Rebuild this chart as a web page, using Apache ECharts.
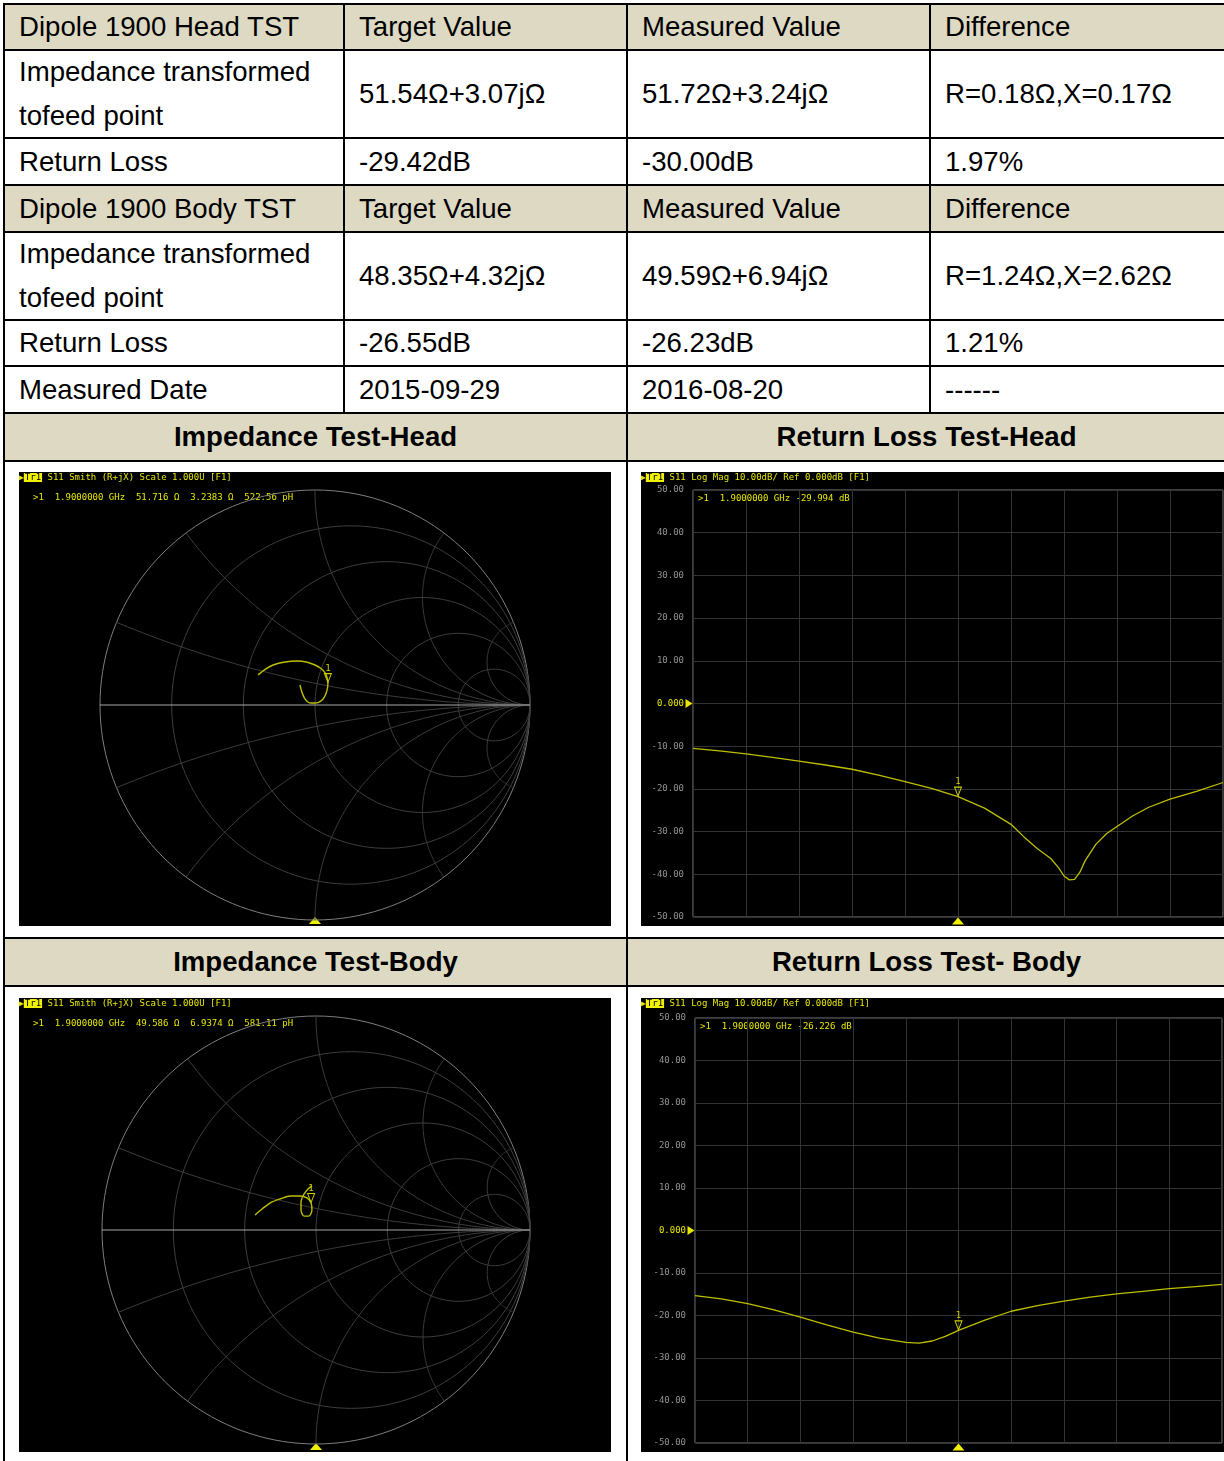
<!DOCTYPE html>
<html>
<head>
<meta charset="utf-8">
<title>Dipole 1900 verification</title>
<script src="https://cdn.jsdelivr.net/npm/echarts@6.0.0/dist/echarts.min.js"></script>
<style>
  html, body { margin: 0; padding: 0; background: #fff; }
  #page { position: relative; width: 1224px; height: 1461px; overflow: hidden;
          font-family: 'Liberation Sans', Arial, sans-serif; font-size: 27.6px; color: #000; }
  .cell { position: absolute; box-sizing: border-box; border: 2px solid #000; display: flex;
          align-items: center; padding-left: 14px; line-height: 44px; white-space: nowrap; }
  .cell.hd { background: #ddd9c3; }
  .cell.sec { background: #ddd9c3; font-weight: bold; justify-content: center; padding-left: 0; }
  .scope { position: absolute; background: #000; }
</style>
</head>
<body>
<div id="page"></div>
<script>
// table text
const headRows = [
  ['Dipole 1900 Head TST', 'Target Value', 'Measured Value', 'Difference'],
  ['Impedance transformed<br>tofeed point', '51.54Ω+3.07jΩ', '51.72Ω+3.24jΩ', 'R=0.18Ω,X=0.17Ω'],
  ['Return Loss', '-29.42dB', '-30.00dB', '1.97%']
]
const bodyRows = [
  ['Dipole 1900 Body TST', 'Target Value', 'Measured Value', 'Difference'],
  ['Impedance transformed<br>tofeed point', '48.35Ω+4.32jΩ', '49.59Ω+6.94jΩ', 'R=1.24Ω,X=2.62Ω'],
  ['Return Loss', '-26.55dB', '-26.23dB', '1.21%'],
  ['Measured Date', '2015-09-29', '2016-08-20', '------']
]
const sectionTitles = [
  ['Impedance Test-Head', 'Return Loss Test-Head'],
  ['Impedance Test-Body', 'Return Loss Test- Body']
]

// return loss traces (MHz, dB)
const MARKER_MHZ = 1900
const headRlFreq = [1400, 1450, 1500, 1550, 1600, 1650, 1700, 1750, 1800, 1850, 1900, 1950, 2000, 2025, 2050,
  2075, 2090, 2100, 2110, 2120, 2130, 2140, 2160, 2180, 2200, 2230, 2260, 2300, 2350, 2400]
const headRlDb = [-10.5, -11.1, -11.8, -12.6, -13.5, -14.4, -15.4, -16.8, -18.3, -19.9, -21.8, -24.5, -28.3, -31.3, -34.0,
  -36.3, -38.5, -40.4, -41.3, -41.2, -39.5, -36.8, -33.0, -30.5, -28.8, -26.3, -24.3, -22.4, -20.6, -18.5]
const bodyRlFreq = [1400, 1450, 1500, 1550, 1600, 1650, 1700, 1750, 1800, 1825, 1850, 1875, 1900, 1950, 2000,
  2050, 2100, 2150, 2200, 2250, 2300, 2350, 2400]
const bodyRlDb = [-15.3, -16.1, -17.2, -18.7, -20.4, -22.2, -23.9, -25.3, -26.3, -26.5, -26.0, -24.9, -23.5, -21.1, -19.0,
  -17.7, -16.6, -15.7, -14.9, -14.3, -13.7, -13.2, -12.7]

// smith traces (reflection coefficient re / im)
const headSmithRe = [-0.265, -0.232, -0.195, -0.140, -0.084, -0.040, 0.000, 0.028, 0.047, 0.057, 0.060, 0.058,
  0.052, 0.044, 0.033, 0.017, 0.000, -0.018, -0.033, -0.046, -0.056, -0.064, -0.070]
const headSmithIm = [0.140, 0.166, 0.186, 0.200, 0.205, 0.200, 0.186, 0.170, 0.149, 0.125, 0.102, 0.078,
  0.056, 0.038, 0.023, 0.012, 0.009, 0.009, 0.014, 0.027, 0.047, 0.070, 0.093]
const headSmithMarker = 10
const bodySmithRe = [-0.285, -0.252, -0.215, -0.168, -0.121, -0.075, -0.042, -0.023, -0.019, -0.033, -0.056,
  -0.070, -0.070, -0.056, -0.037, -0.019]
const bodySmithIm = [0.070, 0.098, 0.126, 0.145, 0.159, 0.159, 0.150, 0.126, 0.093, 0.065, 0.065,
  0.093, 0.131, 0.168, 0.192, 0.206]
const bodySmithMarker = 7

// smith grid: resistance circles (0 = outer rim) and reactance arcs
const smithR = [0, 0.2, 0.5, 1, 2, 5]
const smithX = [0.2, 0.5, 1, 2, 5]

const colX = [4, 344, 627, 930, 1226]
const rowY = [4, 50, 138, 185, 232, 320, 366, 413, 461, 938, 986, 1463]

const YEL = '#e6e600'
const TRACE = '#bebe00'
const MONO = '"DejaVu Sans Mono", monospace'

const page = document.getElementById('page')

function addCell(r, c, span, html, cls) {
  const d = document.createElement('div')
  d.className = 'cell' + (cls ? ' ' + cls : '')
  d.style.left = (colX[c] - 1) + 'px'
  d.style.top = (rowY[r] - 1) + 'px'
  d.style.width = (colX[c + span] - colX[c] + 2) + 'px'
  d.style.height = (rowY[r + 1] - rowY[r] + 2) + 'px'
  d.innerHTML = html
  page.appendChild(d)
}

headRows.concat(bodyRows).forEach((row, r) => {
  row.forEach((txt, c) => addCell(r, c, 1, txt, (r === 0 || r === 3) ? 'hd' : ''))
})
sectionTitles.forEach((pair, i) => {
  const r = 7 + i * 2
  addCell(r, 0, 2, pair[0], 'sec')
  addCell(r, 2, 2, pair[1], 'sec')
  addCell(r + 1, 0, 2, '', '')
  addCell(r + 1, 2, 2, '', '')
})

function scope(left, top, width, height) {
  const d = document.createElement('div')
  d.className = 'scope'
  Object.assign(d.style, { left: left + 'px', top: top + 'px', width: width + 'px', height: height + 'px' })
  page.appendChild(d)
  return d
}

function scopeTitle(text) {
  return {
    text: '{a|▶}{b|Tr1} ' + text,
    left: 0,
    top: 1,
    padding: 0,
    textStyle: {
      color: YEL, fontSize: 9, fontWeight: 'normal', fontFamily: MONO,
      rich: {
        a: { color: YEL, fontSize: 8, fontFamily: MONO },
        b: { color: '#000', backgroundColor: '#f0f000', fontSize: 9, fontFamily: MONO, padding: [0, 1] }
      }
    }
  }
}

function markerOne(coord) {
  return {
    coord: coord,
    symbol: 'triangle',
    symbolRotate: 180,
    symbolSize: [7, 9],
    symbolOffset: [0, -5],
    itemStyle: { color: 'rgba(0,0,0,0)', borderColor: '#d0d000', borderWidth: 1 },
    label: { show: true, position: 'top', distance: 0, formatter: '1', color: '#d0d000', fontSize: 9, fontFamily: MONO }
  }
}

function returnLossChart(el, freq, db, readout, grid) {
  const chart = echarts.init(el)
  const m = freq.indexOf(MARKER_MHZ)
  chart.setOption({
    animation: false,
    backgroundColor: '#000',
    title: scopeTitle('S11 Log Mag 10.00dB/ Ref 0.000dB [F1]'),
    grid: Object.assign({ show: true, borderColor: '#7a7a7a', borderWidth: 1 }, grid),
    xAxis: {
      type: 'value', min: 1400, max: 2400, interval: 100,
      axisLabel: { show: false }, axisTick: { show: false }, axisLine: { show: false },
      splitLine: { show: true, lineStyle: { color: '#333', width: 1 } }
    },
    yAxis: {
      type: 'value', min: -50, max: 50, interval: 10,
      axisTick: { show: false }, axisLine: { show: false },
      splitLine: { lineStyle: { color: '#333', width: 1 } },
      axisLabel: {
        color: '#929292', fontFamily: MONO, fontSize: 9, margin: 9,
        formatter: v => v === 0 ? '{z|0.000}' : v.toFixed(2),
        rich: { z: { color: YEL, fontFamily: MONO, fontSize: 9 } }
      }
    },
    graphic: [{
      type: 'text', left: grid.left + 5, top: grid.top + 4,
      style: { text: readout, fill: YEL, font: '9px ' + MONO }
    }],
    series: [{
      type: 'line',
      data: freq.map((f, i) => [f, db[i]]),
      showSymbol: false,
      lineStyle: { color: TRACE, width: 1.3 },
      markPoint: {
        silent: true,
        data: [
          markerOne([freq[m], db[m]]),
          { coord: [1400, 0], symbol: 'triangle', symbolRotate: -90, symbolSize: [9, 7], symbolOffset: [-4, 0],
            itemStyle: { color: YEL }, label: { show: false } },
          { coord: [MARKER_MHZ, -50], symbol: 'triangle', symbolSize: [12, 7], symbolOffset: [0, 4],
            itemStyle: { color: '#f0f000' }, label: { show: false } }
        ]
      }
    }]
  })
}

function resistancePath(api, r) {
  const c = r / (1 + r), rho = 1 / (1 + r), pts = []
  for (let k = 0; k <= 160; k++) {
    const t = k / 160 * Math.PI * 2
    pts.push(api.coord([c + rho * Math.cos(t), rho * Math.sin(t)]))
  }
  return pts
}

function reactancePath(api, x) {
  const pts = []
  for (let k = 0; k < 160; k++) {
    const s = Math.tan(k / 160 * Math.PI / 2)
    const den = (s + 1) * (s + 1) + x * x
    pts.push(api.coord([(s * s - 1 + x * x) / den, 2 * x / den]))
  }
  pts.push(api.coord([1, 0]))
  return pts
}

function smithChart(el, re, im, mIdx, readout, grid) {
  const chart = echarts.init(el)
  const lineStyle = { lineWidth: 1, fill: null }
  chart.setOption({
    animation: false,
    backgroundColor: '#000',
    title: scopeTitle('S11 Smith (R+jX) Scale 1.000U [F1]'),
    grid: grid,
    xAxis: { type: 'value', min: -1, max: 1, show: false },
    yAxis: { type: 'value', min: -1, max: 1, show: false },
    graphic: [
      { type: 'text', left: 14, top: 21, style: { text: readout, fill: YEL, font: '9px ' + MONO } },
      { type: 'polygon', shape: { points: [[grid.left + grid.width / 2 - 6, 452], [grid.left + grid.width / 2, 445],
        [grid.left + grid.width / 2 + 6, 452]] }, style: { fill: '#f0f000' } }
    ],
    series: [
      {
        type: 'custom', silent: true, encode: { x: 0, y: 1 },
        data: smithR.map(r => [r, 0]),
        renderItem: (p, api) => ({
          type: 'polyline', shape: { points: resistancePath(api, api.value(0)) },
          style: Object.assign({ stroke: api.value(0) === 0 ? '#7e7e7e' : '#3e3e3e' }, lineStyle)
        })
      },
      {
        type: 'custom', silent: true, encode: { x: 0, y: 1 },
        data: smithX.map(x => [x, 0]).concat(smithX.map(x => [-x, 0])),
        renderItem: (p, api) => ({
          type: 'polyline', shape: { points: reactancePath(api, api.value(0)) },
          style: Object.assign({ stroke: '#3e3e3e' }, lineStyle)
        })
      },
      {
        type: 'custom', silent: true, encode: { x: 0, y: 1 },
        data: [[-1, 0]],
        renderItem: (p, api) => {
          const a = api.coord([-1, 0]), b = api.coord([1, 0])
          return { type: 'line', shape: { x1: a[0], y1: a[1], x2: b[0], y2: b[1] },
            style: { stroke: '#a8a8a8', lineWidth: 1 } }
        }
      },
      {
        type: 'line',
        data: re.map((v, i) => [v, im[i]]),
        smooth: 0.3,
        showSymbol: false,
        lineStyle: { color: TRACE, width: 1.4 },
        markPoint: { silent: true, data: [markerOne([re[mIdx], im[mIdx]])] }
      }
    ]
  })
}

smithChart(scope(19, 472, 592, 454), headSmithRe, headSmithIm, headSmithMarker,
  '>1  1.9000000 GHz  51.716 Ω  3.2383 Ω  522.56 pH', { left: 81, top: 18, width: 430, height: 430 })
returnLossChart(scope(641, 472, 583, 454), headRlFreq, headRlDb,
  '>1  1.9000000 GHz -29.994 dB', { left: 52, top: 18, width: 530, height: 427 })
smithChart(scope(19, 998, 592, 454), bodySmithRe, bodySmithIm, bodySmithMarker,
  '>1  1.9000000 GHz  49.586 Ω  6.9374 Ω  581.11 pH', { left: 83, top: 18, width: 428, height: 428 })
returnLossChart(scope(641, 998, 583, 454), bodyRlFreq, bodyRlDb,
  '>1  1.9000000 GHz -26.226 dB', { left: 54, top: 20, width: 527, height: 425 })
</script>
</body>
</html>
